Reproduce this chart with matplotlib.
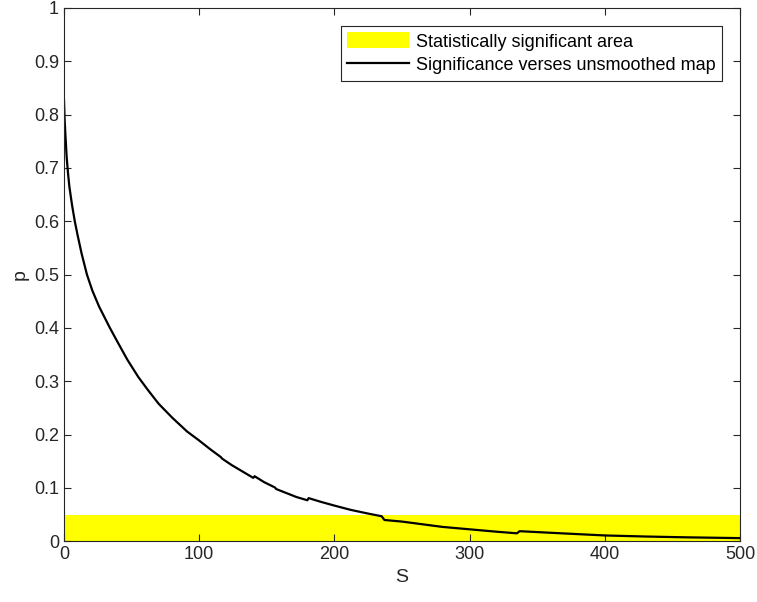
import matplotlib.pyplot as plt

plt.rcParams['font.family'] = ['Liberation Sans', 'DejaVu Sans']

# values
S = [0, 0.5, 1, 2, 3, 4, 6, 8, 10, 13, 17, 21, 26, 30, 34, 40, 47, 55,
     62, 70, 80, 91, 100, 108, 116, 117, 124, 132, 140, 141, 148, 156,
     157, 164, 172, 180, 181, 190, 200, 212, 225, 235, 237, 250, 265,
     280, 300, 320, 335, 337, 360, 380, 400, 430, 460, 500]
p = [0.828, 0.79, 0.765, 0.72, 0.69, 0.665, 0.63, 0.60, 0.575, 0.54,
     0.50, 0.47, 0.44, 0.42, 0.40, 0.372, 0.340, 0.308, 0.284, 0.258,
     0.232, 0.206, 0.189, 0.173, 0.158, 0.155, 0.143, 0.131, 0.119,
     0.122, 0.111, 0.101, 0.098, 0.091, 0.083, 0.077, 0.081, 0.074,
     0.067, 0.059, 0.052, 0.047, 0.040, 0.037, 0.032, 0.027, 0.0225,
     0.018, 0.015, 0.019, 0.016, 0.0135, 0.011, 0.009, 0.0075, 0.006]

sig_level = 0.05
x_range = [0, 500]

fig = plt.figure(figsize=(7.57, 6.02), dpi=100)
ax = fig.add_axes([0.0845, 0.1008, 0.893, 0.886])

ax.fill_between(x_range, 0, sig_level, color=(1, 1, 0), linewidth=0,
                label='Statistically significant area')
ax.plot(S, p, color='black', linewidth=1.6,
        label='Significance verses unsmoothed map')

ax.set_xlim(0, 500)
ax.set_ylim(0, 1)
ax.set_xticks([0, 100, 200, 300, 400, 500])
ax.set_yticks([0, 0.1, 0.2, 0.3, 0.4, 0.5, 0.6, 0.7, 0.8, 0.9, 1])
ax.set_yticklabels(['0', '0.1', '0.2', '0.3', '0.4', '0.5', '0.6', '0.7',
                    '0.8', '0.9', '1'])
ax.tick_params(direction='in', top=True, right=True, length=5,
               labelsize=13, colors='#262626', width=0.8)
for sp in ax.spines.values():
    sp.set_color('#262626')
    sp.set_linewidth(0.8)

ax.set_xlabel('S', fontsize=14, color='#262626', labelpad=4)
ax.set_ylabel('p', fontsize=14, color='#262626', labelpad=4)

leg = ax.legend(loc='upper right', fontsize=13, fancybox=False,
                framealpha=1, edgecolor='#262626', borderaxespad=1.0,
                handlelength=3.4, handleheight=1.0, handletextpad=0.4,
                borderpad=0.35, labelspacing=0.3)
leg.get_frame().set_linewidth(0.8)

fig.savefig('out.png', dpi=100)
